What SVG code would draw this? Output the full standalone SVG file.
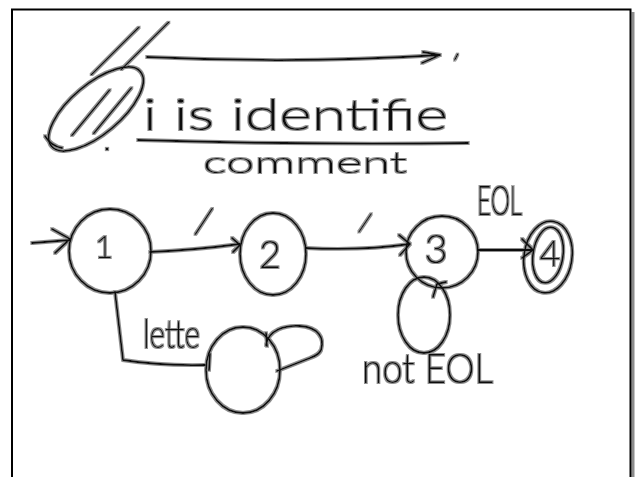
<svg xmlns="http://www.w3.org/2000/svg" width="639" height="477" viewBox="0 0 639 477">
<defs>
<style>
.ink{fill:none;stroke:#111;stroke-width:1.8;stroke-linecap:round;stroke-linejoin:round}
.t{font-family:Lato,"Liberation Sans",sans-serif;font-weight:300;fill:#111}
.s{font-weight:100;stroke:#111;stroke-width:1.1;stroke-linejoin:round}
</style>
<filter id="halo" filterUnits="userSpaceOnUse" x="0" y="0" width="639" height="477">
<feMorphology in="SourceAlpha" operator="dilate" radius="0.8" result="d"/>
<feFlood flood-color="#8f8f8f"/>
<feComposite in2="d" operator="in" result="g"/>
<feMerge><feMergeNode in="g"/><feMergeNode in="SourceGraphic"/></feMerge>
</filter>
</defs>
<rect x="0" y="0" width="639" height="477" fill="#fff"/>
<g id="page">
<rect x="631.5" y="12" width="3" height="470" fill="#8c8c8c"/>
<rect x="12" y="9.5" width="618.5" height="480" fill="none" stroke="#000" stroke-width="2"/>
</g>
<g filter="url(#halo)">
<g id="notes">
<text class="t s" font-size="62" transform="translate(90,72) skewX(-30)"><tspan x="0" y="0">/</tspan><tspan x="27" y="-5">/</tspan></text>
<path class="ink" d="M147,57 Q297,64 440,55 M423,52 L440,55 L422,63"/>
<text class="t" font-size="32" x="453" y="76" transform="rotate(27 456 57)">'</text>
<ellipse class="ink" cx="96" cy="109" rx="58" ry="25" transform="rotate(-40 96 109)"/>
<path class="ink" d="M45,136 Q51,146 62,148"/>
<circle cx="107" cy="149" r="1.3" fill="#111"/>
<text class="t s" font-size="60" transform="translate(70,133) skewX(-22)"><tspan x="0" y="0">/</tspan><tspan x="21" y="-2">/</tspan></text>
<text class="t" font-size="44" x="143" y="130" textLength="305" lengthAdjust="spacingAndGlyphs">i is identifie</text>
<path class="ink" d="M138,140 Q300,145 468,143"/>
<text class="t" font-size="29" x="203" y="173" textLength="204" lengthAdjust="spacingAndGlyphs">comment</text>
</g>
<g id="connectors">
<path class="ink" d="M32,243 L70,240 M52,229 L70,239 L55,253"/>
<path class="ink" d="M150,252 Q195,250 240,244 M232,238 L240,245 L233,252"/>
<text class="t s" font-size="34" transform="translate(194,233) skewX(-13)" x="0" y="0">/</text>
<path class="ink" d="M306,248 Q360,251 410,244 M399,235 L410,244 L400,255"/>
<text class="t s" font-size="24" transform="translate(358,231) skewX(-14)" x="0" y="0">/</text>
<path class="ink" d="M478,250 L533,250 M522,239 L533,250 L522,258"/>
<text class="t" font-size="42" x="477" y="215" textLength="45" lengthAdjust="spacingAndGlyphs">EOL</text>
<path class="ink" d="M115,292 L123,360 Q160,366 205,365 M210,354 L209,370"/>
<text class="t" font-size="40" x="143" y="348" textLength="57" lengthAdjust="spacingAndGlyphs">lette</text>
<path class="ink" d="M266,345 C268,330 285,325 300,326 C318,327 325,338 321,350 C318,356 312,357 310,358 L277,371 M266,333 L267,346"/>
<ellipse class="ink" cx="424" cy="315" rx="26" ry="38"/>
<path class="ink" d="M433,297 L437,284 L446,282"/>
<text class="t" font-size="42" x="362" y="383" textLength="131" lengthAdjust="spacingAndGlyphs">not EOL</text>
</g>
<g id="n1">
<ellipse class="ink" cx="110" cy="251" rx="41" ry="42"/>
<text class="t" font-size="32" x="104" y="258" text-anchor="middle">1</text>
</g>
<g id="n2">
<ellipse class="ink" cx="273" cy="254" rx="33" ry="41"/>
<text class="t" font-size="38" x="270" y="268" text-anchor="middle">2</text>
</g>
<g id="n3">
<ellipse class="ink" cx="442" cy="252" rx="36" ry="36"/>
<text class="t" font-size="40" x="436" y="263" text-anchor="middle">3</text>
</g>
<g id="n4">
<ellipse class="ink" cx="548" cy="257" rx="24" ry="36" transform="rotate(8 548 257)"/>
<ellipse class="ink" cx="548" cy="255" rx="15" ry="28" transform="rotate(8 548 255)"/>
<text class="t" font-size="36" x="550" y="266" text-anchor="middle">4</text>
</g>
<g id="n5">
<ellipse class="ink" cx="243" cy="370" rx="37" ry="43"/>
</g>
</g>
</svg>
